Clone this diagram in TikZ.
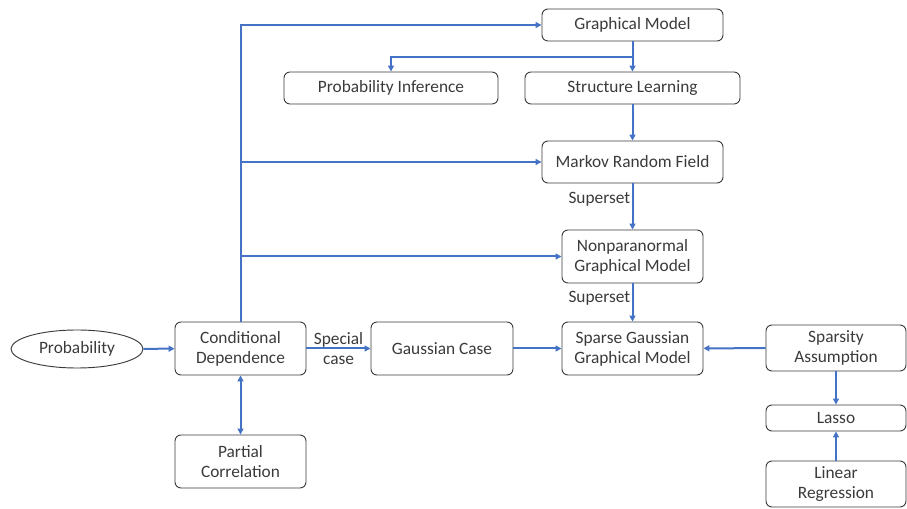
\documentclass[tikz,border=0pt]{standalone}
\usepackage{fontspec}
\setmainfont{Carlito}
\usetikzlibrary{arrows.meta,shapes.geometric}
\definecolor{linkblue}{HTML}{4472C4}
\definecolor{boxgray}{HTML}{3A3A3A}

\begin{document}
\begin{tikzpicture}%
  [x=0.75pt,y=-0.75pt,font=\fontsize{13}{15}\selectfont,
   dims/.style 2 args={minimum width=#1*0.75pt,minimum height=#2*0.75pt},
   box node/.style={rectangle,rounded corners=4.5pt,draw=boxgray,line width=0.7pt,
     text=boxgray,align=center,inner sep=0pt},
   ell node/.style={ellipse,draw=boxgray,line width=0.7pt,text=boxgray,inner sep=0pt},
   link/.style={draw=linkblue,line width=1.5pt,-{Triangle[length=4.5pt,width=4.5pt]}},
   tag/.style={text=boxgray,inner sep=1pt}]
  \useasboundingbox (0,0) rectangle (907,509);
  % top part
  \node(gm)[box node,dims={181}{32}] at (632.5,25){Graphical Model};
  \node(pi)[box node,dims={214}{32}] at (391,88){Probability Inference};
  \node(sl)[box node,dims={215}{32}] at (632.5,88){Structure Learning};
  \node(mrf)[box node,dims={181}{42}] at (632.5,162){Markov Random Field};
  \node(npn)[box node,dims={141}{53}] at (632.5,256.5){Nonparanormal\\Graphical Model};
  % middle row
  \node(prob)[ell node,dims={132}{38}] at (77,349){Probability};
  \node(cond)[box node,dims={131}{53}] at (240.5,348.5){Conditional\\Dependence};
  \node(gc)[box node,dims={142}{53}] at (442,348.5){Gaussian Case};
  \node(sg)[box node,dims={141}{53}] at (632.5,348.5){Sparse Gaussian\\Graphical Model};
  \node(pc)[box node,dims={131}{53}] at (240.5,461.5){Partial\\Correlation};
  % right column
  \node(sa)[box node,dims={140}{46}] at (836,348){Sparsity\\Assumption};
  \node(lasso)[box node,dims={140}{26}] at (836,418){Lasso};
  \node(lr)[box node,dims={140}{46}] at (836,484){Linear\\Regression};
  \coordinate(split) at (632.5,57);

  \draw[link] (cond.north) |- (gm.west);
  \draw[link] (cond.north) |- (mrf.west);
  \draw[link] (cond.north) |- (npn.west);
  \draw[link] (gm.south) -- (split) -| (pi.north);
  \draw[link] (split) -- (sl.north);
  \draw[link] (sl) -- (mrf);
  \draw[link] (mrf) -- node[tag,left,pos=0.35]{Superset} (npn);
  \draw[link] (npn) -- node[tag,left,pos=0.38]{Superset} (sg);
  \draw[link] (prob) -- (cond);
  \draw[link] (cond) -- node[tag,align=center]{Special\\case} (gc);
  \draw[link] (gc) -- (sg);
  \draw[link] (sa) -- (sg);
  \draw[link] (sa) -- (lasso);
  \draw[link] (lr) -- (lasso);
  \draw[link,{Triangle[length=4.5pt,width=4.5pt]}-{Triangle[length=4.5pt,width=4.5pt]}] (cond) -- (pc);
\end{tikzpicture}
\end{document}
